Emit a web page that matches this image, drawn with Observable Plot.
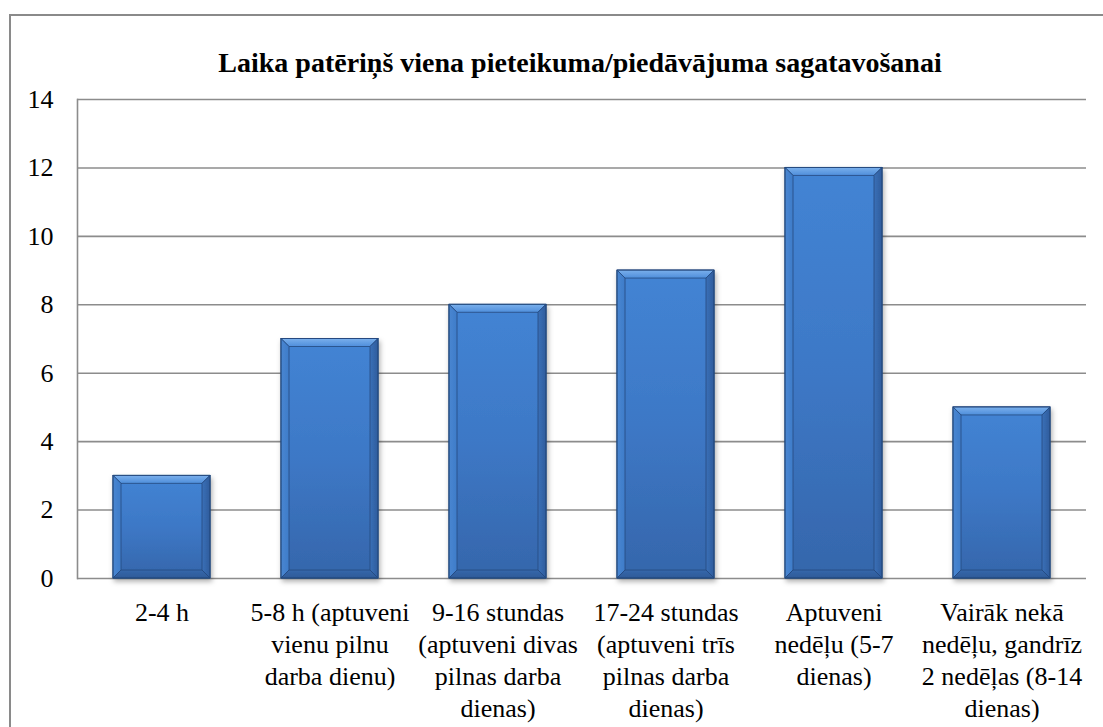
<!DOCTYPE html>
<html>
<head>
<meta charset="utf-8">
<script src="https://cdn.jsdelivr.net/npm/d3@7"></script>
<script src="https://cdn.jsdelivr.net/npm/@observablehq/plot@0.6"></script>
<style>
  html, body { margin: 0; padding: 0; background: #fff; }
  #wrap { position: relative; width: 1103px; height: 727px; overflow: hidden; }
  #frame { position: absolute; left: 9px; top: 14px; width: 1200px; height: 800px; border: 2px solid #8a8a8a; box-sizing: border-box; }
  #chart { position: absolute; left: 0; top: 0; }
</style>
</head>
<body>
<div id="wrap"><div id="frame"></div><div id="chart"></div></div>
<script>
const FONT = "Liberation Serif";
const title = "Laika patēriņš viena pieteikuma/piedāvājuma sagatavošanai";
const categories = [
  "2-4 h",
  "5-8 h (aptuveni\nvienu pilnu\ndarba dienu)",
  "9-16 stundas\n(aptuveni divas\npilnas darba\ndienas)",
  "17-24 stundas\n(aptuveni trīs\npilnas darba\ndienas)",
  "Aptuveni\nnedēļu (5-7\ndienas)",
  "Vairāk nekā\nnedēļu, gandrīz\n2 nedēļas (8-14\ndienas)"
];
const values = [3, 7, 8, 9, 12, 5];
const yTicks = [0, 2, 4, 6, 8, 10, 12, 14];

const data = categories.map((c, i) => ({category: c, value: values[i]}));

const chart = Plot.plot({
  width: 1103,
  height: 727,
  marginLeft: 77,
  marginRight: 17,
  marginTop: 99,
  marginBottom: 149,
  style: {"font-family": FONT, "background": "transparent", "color": "black", "overflow": "visible"},
  x: {domain: categories, paddingInner: 0.42, paddingOuter: 0.21, label: null},
  y: {domain: [0, 14], ticks: yTicks, label: null},
  marks: [
    Plot.gridY(yTicks, {stroke: "#8c8c8c", strokeOpacity: 1, strokeWidth: 1.6}),
    Plot.frame({anchor: "left", stroke: "#8c8c8c", strokeWidth: 1.6}),
    Plot.axisY(yTicks, {tickSize: 0, tickPadding: 24, fontSize: 26, fontFamily: FONT, label: null}),
    Plot.axisX({tickSize: 0, tickPadding: 20, fontSize: 26, fontFamily: FONT, lineHeight: 1.23, label: null}),
    Plot.barY(data, {x: "category", y: "value", fill: "url(#barGrad)", stroke: "#25497e", strokeWidth: 0.8}),
    Plot.text([title], {text: d => d, frameAnchor: "top", dy: -47, dx: -2, fontSize: 28, fontFamily: FONT, fontWeight: "bold"})
  ]
});
document.getElementById("chart").appendChild(chart);

const svg = d3.select(chart.tagName.toLowerCase() === "svg" ? chart : chart.querySelector("svg"));

// 3D bevel styling for bars
const defs = svg.insert("defs", ":first-child");
function grad(id, x2, y2, stops) {
  const g = defs.append("linearGradient").attr("id", id).attr("x1", 0).attr("y1", 0).attr("x2", x2).attr("y2", y2);
  stops.forEach(([o, c]) => g.append("stop").attr("offset", o).attr("stop-color", c));
}
grad("barGrad", 0, 1, [[0, "#4384d4"], [0.5, "#3d78c6"], [1, "#3566ab"]]);
grad("topGrad", 0, 1, [[0, "#7ab0ec"], [1, "#4f8edb"]]);
grad("leftGrad", 1, 0, [[0, "#4886d1"], [1, "#3f7cc9"]]);
grad("rightGrad", 1, 0, [[0, "#3a70b8"], [1, "#2f5c9c"]]);
grad("bottomGrad", 0, 1, [[0, "#3668ab"], [1, "#2e5a98"]]);
const f = defs.append("filter").attr("id", "shadow").attr("x", "-10%").attr("y", "-10%").attr("width", "130%").attr("height", "130%");
f.append("feDropShadow").attr("dx", 1.5).attr("dy", 3).attr("stdDeviation", 2.5).attr("flood-color", "#000").attr("flood-opacity", 0.3);

svg.selectAll('g[aria-label="bar"] rect').each(function() {
  const r = d3.select(this);
  const x = +r.attr("x"), y = +r.attr("y"), w = +r.attr("width"), h = +r.attr("height");
  const b = 8;
  const parent = d3.select(this.parentNode);
  const g = parent.append("g").attr("filter", "url(#shadow)");
  this.parentNode.removeChild(this);
  g.node().appendChild(this);
  const poly = (pts, fill) => g.append("polygon").attr("points", pts.map(p => p.join(",")).join(" ")).attr("fill", fill);
  poly([[x, y], [x + w, y], [x + w - b, y + b], [x + b, y + b]], "url(#topGrad)");
  poly([[x, y], [x + b, y + b], [x + b, y + h - b], [x, y + h]], "url(#leftGrad)");
  poly([[x + w, y], [x + w, y + h], [x + w - b, y + h - b], [x + w - b, y + b]], "url(#rightGrad)");
  poly([[x, y + h], [x + b, y + h - b], [x + w - b, y + h - b], [x + w, y + h]], "url(#bottomGrad)");
  g.append("rect").attr("x", x).attr("y", y).attr("width", w).attr("height", h).attr("fill", "none").attr("stroke", "#25497e").attr("stroke-width", 0.8);
});
</script>
</body>
</html>
